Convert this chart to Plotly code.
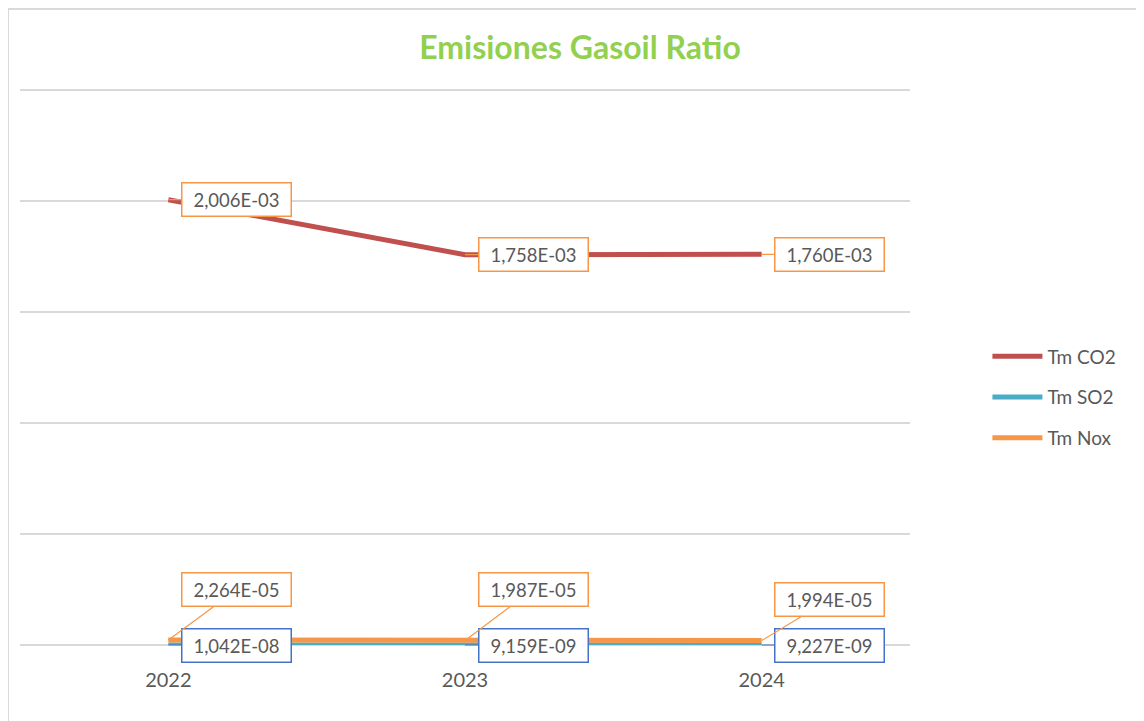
import plotly.graph_objects as go

years = ["2022", "2023", "2024"]
co2 = [2.006e-03, 1.758e-03, 1.760e-03]
so2 = [1.042e-08, 9.159e-09, 9.227e-09]
nox = [2.264e-05, 1.987e-05, 1.994e-05]

series = [
    ("Tm CO2", co2, "#C0504D", "#F79646"),
    ("Tm SO2", so2, "#4BACC6", "#4472C4"),
    ("Tm Nox", nox, "#F79646", "#F79646"),
]
nox_ay = [-50, -51, -41]

FONT = "Lato, Open Sans, sans-serif"

def fmt(v):
    return f"{v:.3E}".replace(".", ",")

fig = go.Figure()
for i, (name, vals, color, _) in enumerate(series):
    fig.add_trace(go.Scatter(
        x=years, y=vals, mode="lines", name=name,
        line=dict(color=color, width=5),
        legendgroup=f"g{i}", hoverinfo="skip",
    ))

annotations = []
for name, vals, color, bcolor in series:
    for j, yv in enumerate(vals):
        a = nox_ay[j] if name == "Tm Nox" else 0
        annotations.append(dict(
            x=j, y=yv, xref="x", yref="y",
            text=fmt(yv), showarrow=True, arrowhead=0, arrowwidth=1.2,
            arrowcolor=bcolor, standoff=0,
            ax=68, ay=a,
            bordercolor=bcolor, borderwidth=1.5, borderpad=5,
            bgcolor="white", width=98, height=22,
            font=dict(family=FONT, size=18.5, color="#595959"),
        ))

T, B = 80, 84
PH = 721 - T - B

fig.update_layout(
    width=1144, height=721,
    paper_bgcolor="white", plot_bgcolor="white",
    margin=dict(l=12, r=242, t=T, b=B),
    title=dict(text="<b>Emisiones Gasoil Ratio</b>", x=0.5, xanchor="center",
               y=1 - 40 / 721, yanchor="middle",
               font=dict(family=FONT, size=32, color="#92D050")),
    xaxis=dict(type="category", showgrid=False, showline=False, zeroline=False,
               ticks="outside", ticklen=17, tickcolor="rgba(0,0,0,0)",
               tickfont=dict(family=FONT, size=20, color="#595959"),
               range=[-0.5, 2.5]),
    yaxis=dict(range=[0, 0.002509], tick0=0, dtick=0.0005, showticklabels=False,
               gridcolor="#D9D9D9", gridwidth=1.5, zeroline=True,
               zerolinecolor="#D9D9D9", zerolinewidth=1.5, showline=False),
    legend=dict(x=1.087, xanchor="left", y=0.5 - 31 / PH, yanchor="middle",
                tracegroupgap=13, itemwidth=50,
                font=dict(family=FONT, size=19, color="#595959")),
    annotations=annotations,
    shapes=[dict(type="rect", xref="paper", yref="paper",
                 x0=-12 / 890, x1=1.3, y0=-0.2, y1=1 + 79 / PH,
                 line=dict(color="#D9D9D9", width=2), fillcolor="rgba(0,0,0,0)",
                 layer="below")],
)

fig.write_html("out.html")
